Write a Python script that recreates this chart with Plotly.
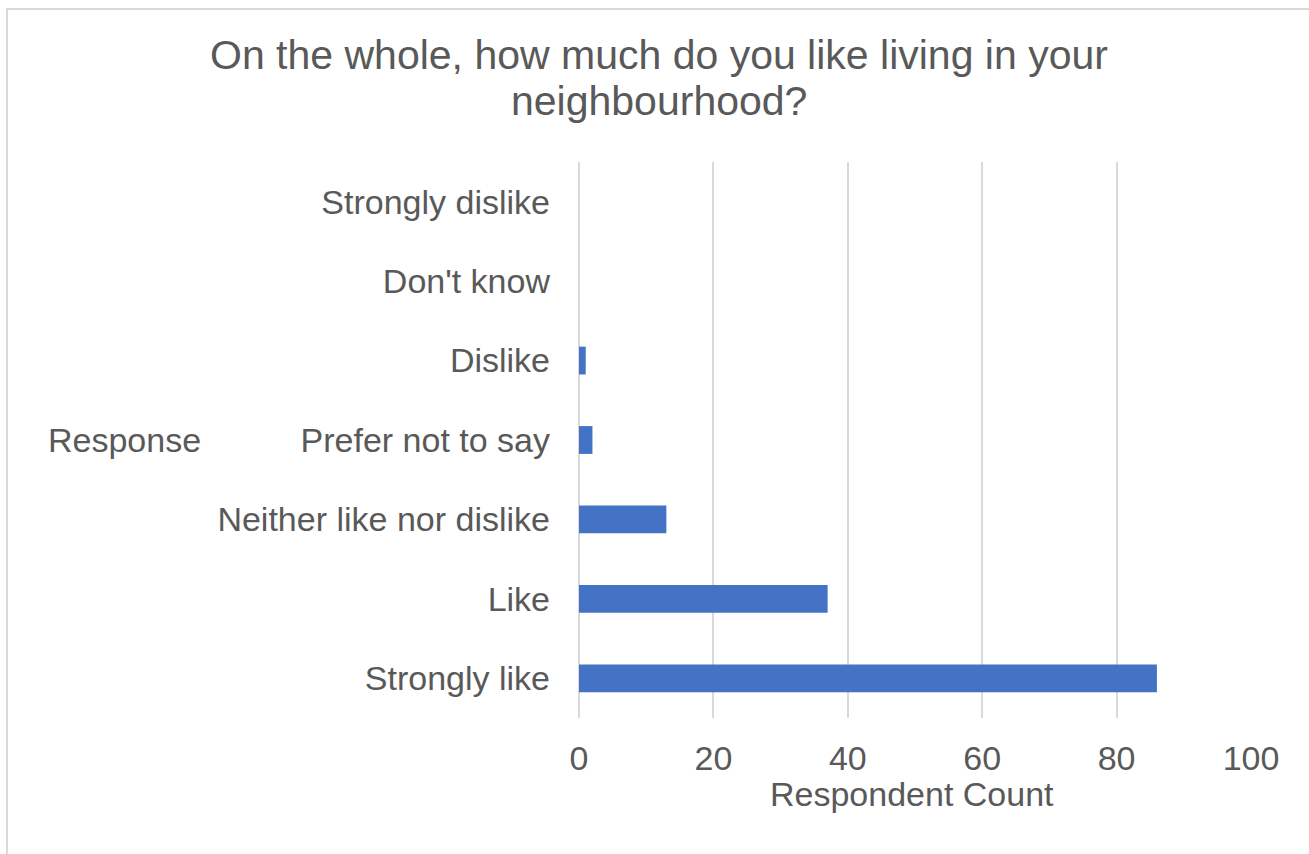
import plotly.graph_objects as go

# Survey responses (bottom to top on the chart)
responses = [
    "Strongly like",
    "Like",
    "Neither like nor dislike",
    "Prefer not to say",
    "Dislike",
    "Don't know",
    "Strongly dislike",
]
counts = [86, 37, 13, 2, 1, 0, 0]

x_ticks = [0, 20, 40, 60, 80, 100]

title_lines = ["On the whole, how much do you like living in your", "neighbourhood?"]

FONT = "Liberation Sans, Arial, sans-serif"
TEXT = "#595959"
GRID = "#d9d9d9"
BAR = "#4472C4"

W, H = 1309, 854
L, R, T, B = 579, 58, 162, 136
pw, ph = W - L - R, H - T - B


def px_to_paper_x(px):
    return (px - L) / pw


def px_to_paper_y(py):
    return (H - B - py) / ph


fig = go.Figure(
    go.Bar(
        x=counts,
        y=responses,
        orientation="h",
        marker=dict(color=BAR, line=dict(width=0)),
        hoverinfo="x+y",
    )
)

annotations = [
    dict(
        text=line,
        xref="paper",
        yref="paper",
        x=px_to_paper_x(W / 2 + 4),
        y=px_to_paper_y(yc),
        xanchor="center",
        yanchor="middle",
        showarrow=False,
        font=dict(size=41, color=TEXT),
    )
    for line, yc in zip(title_lines, [55, 101])
]
annotations += [
    dict(
        text="Respondent Count",
        xref="paper",
        yref="paper",
        x=px_to_paper_x(912),
        y=px_to_paper_y(794),
        xanchor="center",
        yanchor="middle",
        showarrow=False,
        font=dict(size=34, color=TEXT),
    ),
    dict(
        text="Response",
        xref="paper",
        yref="paper",
        x=px_to_paper_x(46),
        y=px_to_paper_y(440),
        xanchor="left",
        yanchor="middle",
        showarrow=False,
        font=dict(size=34, color=TEXT),
    ),
]

fig.update_layout(
    width=W,
    height=H,
    margin=dict(l=L, r=R, t=T, b=B, autoexpand=False),
    paper_bgcolor="white",
    plot_bgcolor="white",
    bargap=0.65,
    showlegend=False,
    font=dict(family=FONT, color=TEXT, size=34),
    xaxis=dict(
        range=[0, 100],
        tickvals=x_ticks,
        showgrid=True,
        gridcolor=GRID,
        gridwidth=2,
        zeroline=True,
        zerolinecolor=GRID,
        zerolinewidth=2,
        showline=False,
        ticks="",
        ticklabelstandoff=17,
        tickfont=dict(size=34, color=TEXT),
        fixedrange=True,
    ),
    yaxis=dict(
        categoryorder="array",
        categoryarray=responses,
        showgrid=False,
        zeroline=False,
        showline=False,
        ticks="",
        ticklabelstandoff=28,
        tickfont=dict(size=34, color=TEXT),
        fixedrange=True,
    ),
    annotations=annotations,
    shapes=[
        dict(
            type="rect",
            xref="paper",
            yref="paper",
            x0=px_to_paper_x(7),
            x1=px_to_paper_x(W + 20),
            y0=px_to_paper_y(H + 20),
            y1=px_to_paper_y(9),
            line=dict(color=GRID, width=2),
            fillcolor="rgba(0,0,0,0)",
            layer="below",
        )
    ],
)

fig.write_html("out.html", config={"displayModeBar": False})
